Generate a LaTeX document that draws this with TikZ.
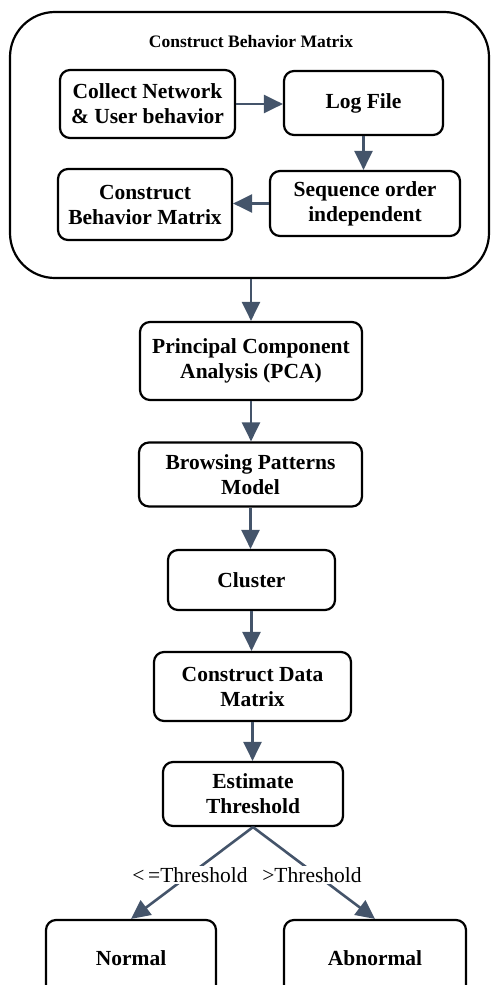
\documentclass[tikz,border=0pt]{standalone}
\usepackage{fontspec}
\setmainfont{Liberation Serif}
\usetikzlibrary{arrows.meta}
\definecolor{arrc}{HTML}{44546A}
\begin{document}
\begin{tikzpicture}[x=1pt,y=-1pt,
 box/.style={draw,line width=2.2pt,rounded corners=10pt,align=center,font=\fontsize{21.5}{25}\selectfont\bfseries,inner sep=0pt},
 arr/.style={draw=arrc,line width=2.6pt,-{Triangle[length=19pt,width=18pt]}},
 lab/.style={font=\fontsize{21.5}{24}\selectfont,fill=white,inner sep=1.5pt}]
\useasboundingbox (0,0) rectangle (491,985);
\clip (0,0) rectangle (491,985);
\node[draw,line width=2.2pt,rounded corners=45pt,minimum width=479pt,minimum height=266pt] (outer) at (249.5,145) {};
\node[font=\fontsize{17.5}{20}\selectfont\bfseries] (title) at (251,42) {Construct Behavior Matrix};
\node[box,minimum width=175pt,minimum height=68pt] (collect) at (147.5,104) {Collect Network\\\& User behavior};
\node[box,minimum width=159pt,minimum height=64pt] (log) at (363.5,103) {Log File};
\node[box,minimum width=190pt,minimum height=65pt] (seq) at (365,203.5) {Sequence order\\independent};
\node[box,minimum width=174pt,minimum height=71pt] (cbm) at (145,204.5) {Construct\\Behavior Matrix};
\node[box,minimum width=222pt,minimum height=78pt] (pca) at (251,361) {Principal Component\\Analysis (PCA)};
\node[box,minimum width=223pt,minimum height=64pt] (brow) at (250.5,474.5) {Browsing Patterns\\Model};
\node[box,minimum width=167pt,minimum height=60pt] (clus) at (251.5,580) {Cluster};
\node[box,minimum width=197pt,minimum height=69pt] (cdm) at (252.5,686.5) {Construct Data\\Matrix};
\node[box,minimum width=180pt,minimum height=64pt] (est) at (253,794) {Estimate\\Threshold};
\node[box,minimum width=170pt,minimum height=76pt] (normal) at (131,958) {Normal};
\node[box,minimum width=182pt,minimum height=76pt] (abn) at (375,958) {Abnormal};
\draw[arr] (collect.east) -- (collect.east -| log.west);
\draw[arr] (log.south) -- (log.south |- seq.north);
\draw[arr] (seq.west) -- (seq.west -| cbm.east);
\draw[arr] (pca.north |- outer.south) -- (pca.north);
\draw[arr] (pca.south) -- (pca.south |- brow.north);
\draw[arr] (brow.south) -- (brow.south |- clus.north);
\draw[arr] (clus.south) -- (clus.south |- cdm.north);
\draw[arr] (cdm.south) -- (cdm.south |- est.north);
\draw[arr] (est.south) -- (normal.north);
\draw[arr] (est.south) -- (abn.north);
\node[lab] (l1) at (190,875) {<\,=Threshold};
\node[lab] (l2) at (312,875) {>Threshold};
\end{tikzpicture}
\end{document}
